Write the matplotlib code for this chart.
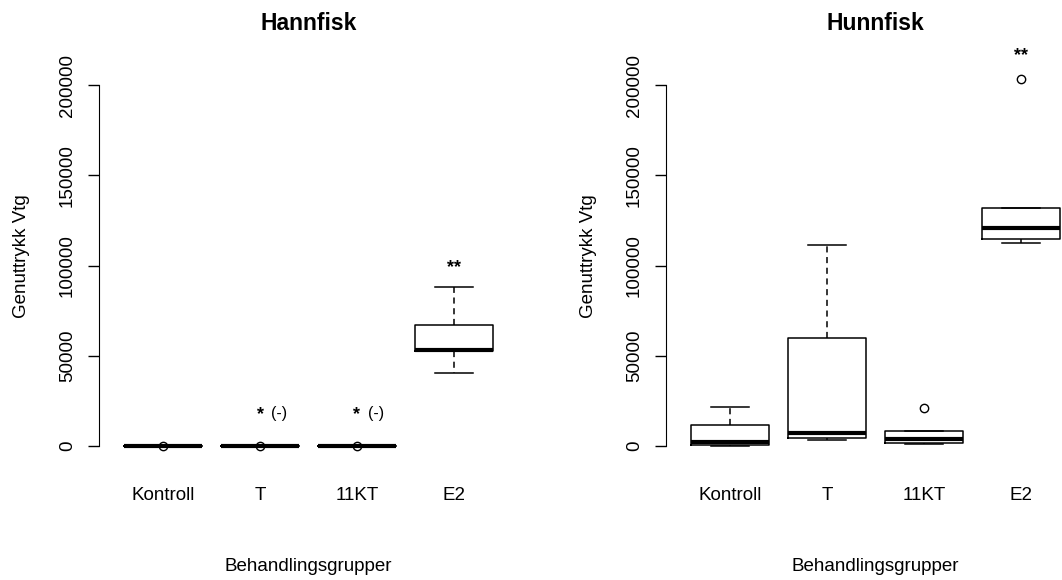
import matplotlib.pyplot as plt
import numpy as np

plt.rcParams['font.family'] = ['Liberation Sans', 'DejaVu Sans']

groups = ['Kontroll', 'T', '11KT', 'E2']

# Hannfisk: five-number summaries per group
hann_whislo = [0, 0, 0, 40600]
hann_q1 = [0, 0, 0, 52600]
hann_med = [0, 0, 0, 53200]
hann_q3 = [0, 0, 0, 67200]
hann_whishi = [0, 0, 0, 88300]
hann_fliers = [[0], [0], [0], []]
hann_sig = ['', '*', '*', '**']
hann_sig_y = [0, 17200, 17200, 99000]
hann_neg = [False, True, True, False]

# Hunnfisk
hunn_whislo = [0, 3300, 900, 112300]
hunn_q1 = [500, 4300, 1800, 114500]
hunn_med = [2000, 7000, 3700, 120900]
hunn_q3 = [11600, 59600, 8100, 131800]
hunn_whishi = [21800, 111300, 8100, 131800]
hunn_fliers = [[], [], [20900], [203500]]
hunn_sig = ['', '', '', '**']
hunn_sig_y = [0, 0, 0, 216500]
hunn_neg = [False, False, False, False]

yticks = [0, 50000, 100000, 150000, 200000]

fig = plt.figure(figsize=(10.62, 5.80), dpi=100)
ax1 = fig.add_axes([99 / 1062, 119 / 580, 419 / 1062, 409 / 580])
ax2 = fig.add_axes([666 / 1062, 119 / 580, 419 / 1062, 409 / 580])


def draw_panel(ax, title, whislo, q1, med, q3, whishi, fliers, sig, sig_y, neg):
    stats = []
    for i in range(len(groups)):
        stats.append(dict(whislo=whislo[i], q1=q1[i], med=med[i], q3=q3[i],
                          whishi=whishi[i], fliers=fliers[i], label=groups[i]))
    pos = np.arange(1, len(groups) + 1)
    ax.bxp(stats, positions=pos, widths=0.8, showfliers=True,
           boxprops=dict(color='black', lw=1.1),
           medianprops=dict(color='black', lw=3, solid_capstyle='butt'),
           whiskerprops=dict(color='black', lw=1.1, linestyle=(0, (4, 3))),
           capprops=dict(color='black', lw=1.1),
           capwidths=0.4,
           flierprops=dict(marker='o', markerfacecolor='none',
                           markeredgecolor='black', markersize=6, markeredgewidth=1))
    ax.set_xlim(0.34, 4.66)
    ax.set_ylim(-8400, 218400)
    for s in ['top', 'right', 'bottom']:
        ax.spines[s].set_visible(False)
    ax.spines['left'].set_bounds(0, 200000)
    ax.set_yticks(yticks)
    ax.set_yticklabels([str(v) for v in yticks], rotation=90, va='center', fontsize=13.5)
    ax.tick_params(axis='y', length=8, width=1, pad=8.5)
    ax.set_xticks(pos)
    ax.set_xticklabels(groups, fontsize=13.5)
    ax.tick_params(axis='x', length=0, pad=19)
    for i, s in enumerate(sig):
        if s:
            ax.text(pos[i], sig_y[i], s, ha='center', va='center',
                    fontsize=13, fontweight='bold', clip_on=False)
        if neg[i]:
            ax.annotate('(-)', (pos[i], sig_y[i]), xytext=(8, 1),
                        textcoords='offset points', ha='left', va='center',
                        fontsize=11.5, annotation_clip=False)
    ax.text(0.5, 1.07, title, transform=ax.transAxes, ha='center', va='center',
            fontsize=16.5, fontweight='bold')
    ax.text(-0.185, 0.5, 'Genuttrykk Vtg', transform=ax.transAxes, rotation=90,
            ha='center', va='center', fontsize=13.5)
    ax.text(0.5, -0.259, 'Behandlingsgrupper', transform=ax.transAxes,
            ha='center', va='center', fontsize=13.5)


draw_panel(ax1, 'Hannfisk', hann_whislo, hann_q1, hann_med, hann_q3, hann_whishi,
           hann_fliers, hann_sig, hann_sig_y, hann_neg)
draw_panel(ax2, 'Hunnfisk', hunn_whislo, hunn_q1, hunn_med, hunn_q3, hunn_whishi,
           hunn_fliers, hunn_sig, hunn_sig_y, hunn_neg)

fig.savefig('out.png', dpi=100)
